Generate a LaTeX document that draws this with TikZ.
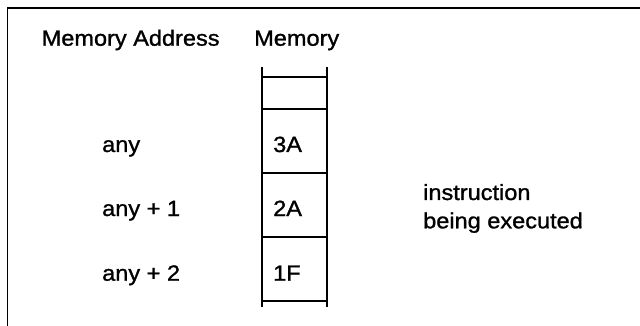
\documentclass[tikz,border=0pt]{standalone}
\usepackage{fontspec}
\setmainfont{Liberation Sans}[FakeStretch=1.07,FakeBold=1.2]
\begin{document}
\begin{tikzpicture}[x=1pt,y=-1pt,
  lbl/.style={anchor=base west,inner sep=0pt,font=\fontsize{22}{28}\selectfont},
  frameline/.style={line width=1.6pt},
  memline/.style={line width=1.8pt}]
\useasboundingbox (0,0) rectangle (640,326);
% frame
\coordinate (fbl) at (7.3,326);
\coordinate (ftl) at (7.3,8.3);
\coordinate (ftr) at (640,8.3);
\draw[frameline] (fbl) -- (ftl) -- (ftr);
% headings
\node[lbl] (hAddr) at (41.5,45.7) {Memory Address};
\node[lbl] (hMem) at (254,45.7) {Memory};
% memory column
\coordinate (cTL) at (262,67);
\coordinate (cTR) at (327,67);
\coordinate (cBL) at (262,307);
\coordinate (cBR) at (327,307);
\draw[memline] (cTL) -- (cBL);
\draw[memline] (cTR) -- (cBR);
\foreach \yy in {77,109,173,237,301}{
  \draw[memline] (262,\yy) -- (327,\yy);
}
% contents
\node[lbl] (m1) at (273,152) {3A};
\node[lbl] (m2) at (273,216) {2A};
\node[lbl] (m3) at (273,280.7) {1F};
% addresses
\node[lbl] (a1) at (102,152) {any};
\node[lbl] (a2) at (102,216) {any + 1};
\node[lbl] (a3) at (102,280.7) {any + 2};
% note
\node[lbl] (n1) at (423,200) {instruction};
\node[lbl] (n2) at (423,228.3) {being executed};
\end{tikzpicture}
\end{document}
